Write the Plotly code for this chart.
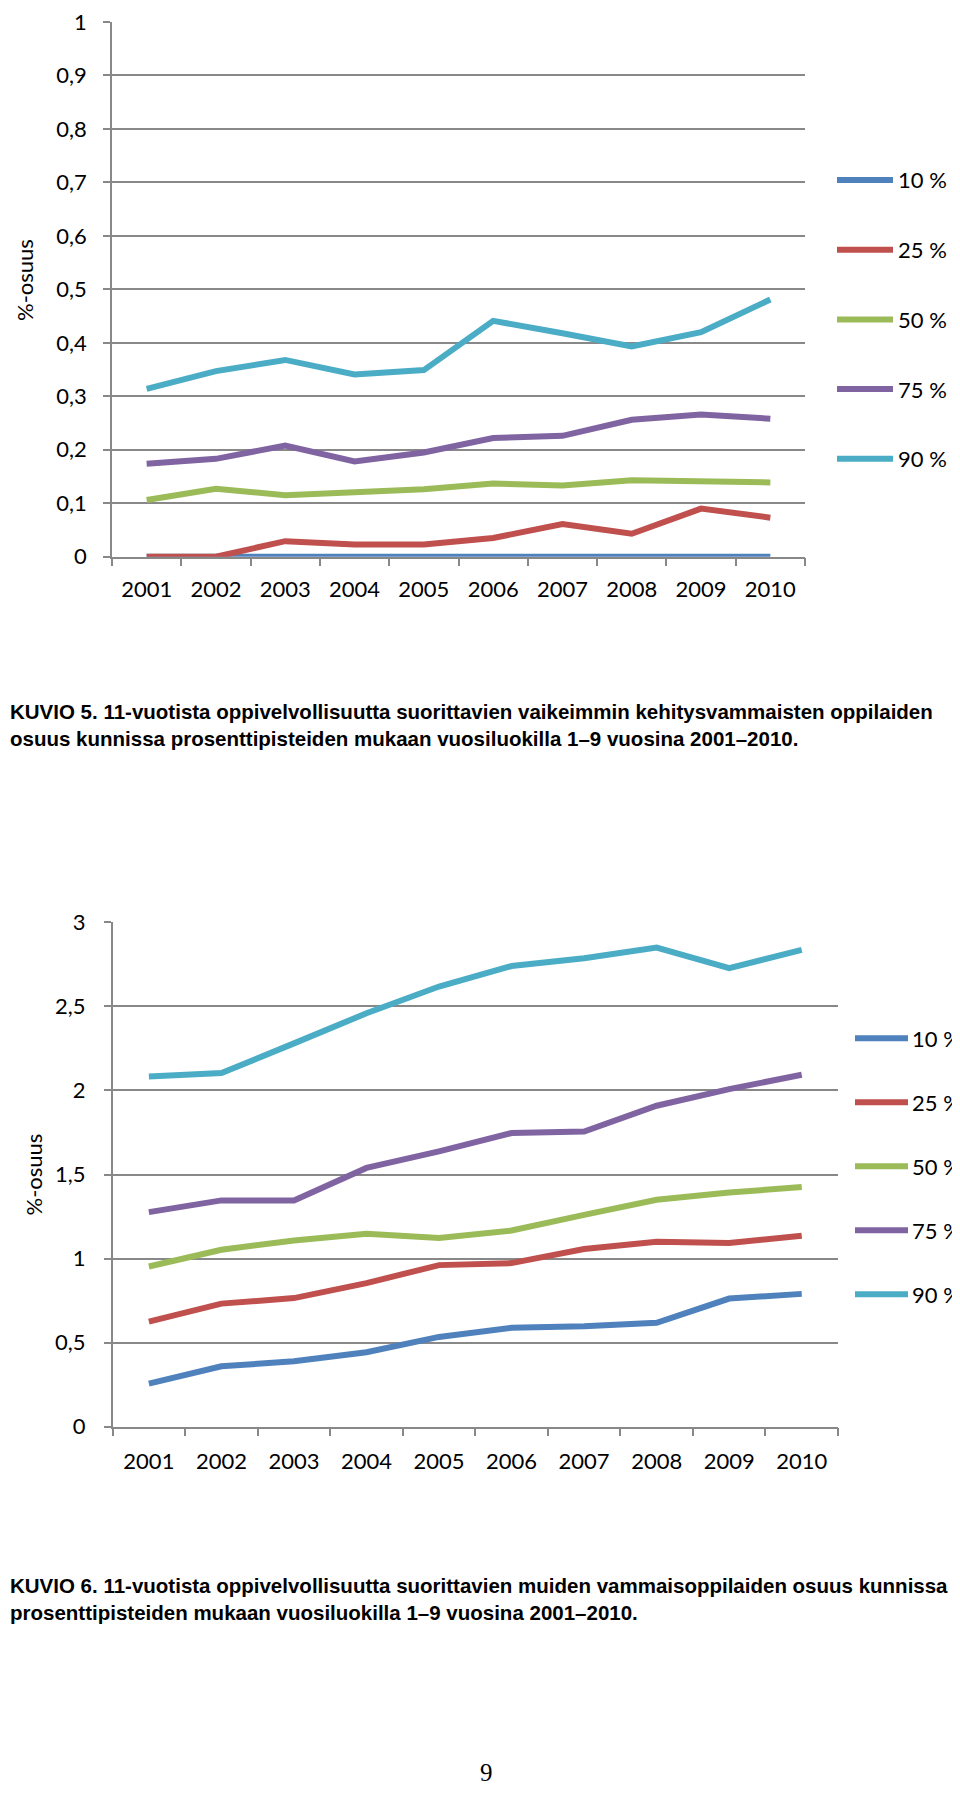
import plotly.graph_objects as go

years = ["2001", "2002", "2003", "2004", "2005", "2006", "2007", "2008", "2009", "2010"]
series_names = ["10 %", "25 %", "50 %", "75 %", "90 %"]
colors = ["#4F81BD", "#C0504D", "#9BBB59", "#8064A2", "#4BACC6"]

# KUVIO 5
k5_p10 = [0, 0, 0, 0, 0, 0, 0, 0, 0, 0]
k5_p25 = [0, 0, 0.029, 0.023, 0.023, 0.035, 0.061, 0.043, 0.090, 0.073]
k5_p50 = [0.106, 0.127, 0.115, 0.121, 0.126, 0.137, 0.133, 0.143, 0.142, 0.139]
k5_p75 = [0.174, 0.183, 0.208, 0.178, 0.195, 0.222, 0.226, 0.256, 0.266, 0.258]
k5_p90 = [0.314, 0.347, 0.368, 0.341, 0.349, 0.441, 0.418, 0.393, 0.420, 0.481]
k5_yticks = [0, 0.1, 0.2, 0.3, 0.4, 0.5, 0.6, 0.7, 0.8, 0.9, 1]

# KUVIO 6
k6_p10 = [0.256, 0.359, 0.389, 0.443, 0.534, 0.588, 0.598, 0.618, 0.762, 0.790]
k6_p25 = [0.625, 0.732, 0.765, 0.854, 0.961, 0.973, 1.057, 1.100, 1.092, 1.136]
k6_p50 = [0.953, 1.052, 1.108, 1.148, 1.122, 1.167, 1.260, 1.350, 1.393, 1.425]
k6_p75 = [1.276, 1.346, 1.346, 1.539, 1.638, 1.747, 1.756, 1.909, 2.008, 2.093]
k6_p90 = [2.083, 2.103, 2.280, 2.459, 2.618, 2.740, 2.786, 2.850, 2.727, 2.836]
k6_yticks = [0, 0.5, 1, 1.5, 2, 2.5, 3]

y_title = "%-osuus"
caption5 = ("KUVIO 5. 11-vuotista oppivelvollisuutta suorittavien vaikeimmin kehitysvammaisten oppilaiden<br>"
            "osuus kunnissa prosenttipisteiden mukaan vuosiluokilla 1–9 vuosina 2001–2010.")
caption6 = ("KUVIO 6. 11-vuotista oppivelvollisuutta suorittavien muiden vammaisoppilaiden osuus kunnissa<br>"
            "prosenttipisteiden mukaan vuosiluokilla 1–9 vuosina 2001–2010.")
page_no = "9"

OX, OY = 8, 8  # page body margin offset
W, H = 960 - OX, 1794 - 2 * OY
FONT = "Lato, Carlito, Calibri, sans-serif"
GRID = "#888888"

def px_(x):
    return (x - OX) / W

def py(y):
    return 1 - (y - OY) / H

fig = go.Figure()

for name, col, vals in zip(series_names, colors, [k5_p10, k5_p25, k5_p50, k5_p75, k5_p90]):
    fig.add_trace(go.Scatter(x=years, y=vals, name=name, mode="lines", showlegend=False,
                             line=dict(color=col, width=6), xaxis="x", yaxis="y"))
for name, col, vals in zip(series_names, colors, [k6_p10, k6_p25, k6_p50, k6_p75, k6_p90]):
    fig.add_trace(go.Scatter(x=years, y=vals, name=name, mode="lines", showlegend=False,
                             line=dict(color=col, width=6), xaxis="x2", yaxis="y2"))

axis_common = dict(showline=True, linecolor=GRID, linewidth=1.5, ticks="outside",
                   tickcolor=GRID, tickwidth=1.5, layer="below traces",
                   tickfont=dict(family=FONT, size=22, color="#000000"))

fig.update_layout(
    width=W, height=H,
    margin=dict(l=0, r=0, t=0, b=0, pad=0, autoexpand=False),
    paper_bgcolor="white", plot_bgcolor="white",
    separators=", ",
    showlegend=False,
    xaxis=dict(type="category", domain=[px_(112), px_(805)], anchor="y", range=[-0.5, 9.5],
               tickson="boundaries", ticklen=8, ticklabelstandoff=12,
               showgrid=False, **axis_common),
    yaxis=dict(domain=[py(556.7), py(22)], range=[0, 1], tickmode="array", tickvals=k5_yticks,
               anchor="x", ticklen=7, ticklabelstandoff=12, showgrid=True, gridcolor=GRID,
               gridwidth=1.5, zeroline=False, ticklabeloverflow="allow", **axis_common),
    xaxis2=dict(type="category", domain=[px_(112.6), px_(838)], anchor="y2", range=[-0.5, 9.5],
                tickson="boundaries", ticklen=8, ticklabelstandoff=14,
                showgrid=False, **axis_common),
    yaxis2=dict(domain=[py(1426.7), py(922.3)], range=[0, 3], tickmode="array", tickvals=k6_yticks,
                anchor="x2", ticklen=7, ticklabelstandoff=14, showgrid=True, gridcolor=GRID,
                gridwidth=1.5, zeroline=False, ticklabeloverflow="allow", **axis_common),
)

# legends (one per chart), built from the series names and colours
shapes = []
annotations = []
legend_specs = [
    dict(line_x0=837, line_x1=893, text_x=896, y0=180, step=69.7),
    dict(line_x0=855, line_x1=908, text_x=910, y0=1038.3, step=64),
]
for spec in legend_specs:
    for i, (name, col) in enumerate(zip(series_names, colors)):
        yy = py(spec["y0"] + i * spec["step"])
        shapes.append(dict(type="line", xref="paper", yref="paper",
                           x0=px_(spec["line_x0"]), x1=px_(spec["line_x1"]), y0=yy, y1=yy,
                           line=dict(color=col, width=6)))
        annotations.append(dict(text=name, x=px_(spec["text_x"]), y=yy, xref="paper", yref="paper",
                                xanchor="left", yanchor="middle", showarrow=False,
                                font=dict(family=FONT, size=22, color="#000000")))

cap_font = dict(family="Liberation Sans, Arial, sans-serif", size=20.5, color="#000000", weight="bold")
annotations += [
    dict(text=y_title, x=px_(25), y=py(280), xref="paper", yref="paper", textangle=-90,
         xanchor="center", yanchor="middle",
         showarrow=False, font=dict(family=FONT, size=22, color="#000000")),
    dict(text=y_title, x=px_(32.5), y=py(1175), xref="paper", yref="paper", textangle=-90,
         xanchor="center", yanchor="middle",
         showarrow=False, font=dict(family=FONT, size=22, color="#000000")),
    dict(text=caption5, x=0, y=py(698.3), xref="paper", yref="paper", xanchor="left", yanchor="top",
         align="left", showarrow=False, font=cap_font),
    dict(text=caption6, x=0, y=py(1571.5), xref="paper", yref="paper", xanchor="left", yanchor="top",
         align="left", showarrow=False, font=cap_font),
    dict(text=page_no, x=px_(486), y=py(1772), xref="paper", yref="paper",
         xanchor="center", yanchor="middle",
         showarrow=False, font=dict(family="Liberation Serif, Times New Roman, serif", size=25, color="#000000")),
]
fig.update_layout(shapes=shapes, annotations=annotations)

fig.write_html("out.html")
